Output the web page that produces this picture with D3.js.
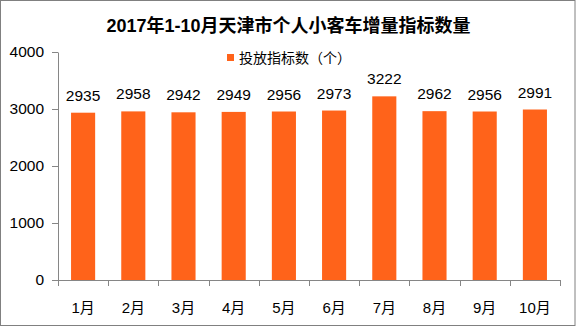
<!DOCTYPE html>
<html>
<head>
<meta charset="utf-8">
<script src="https://cdn.jsdelivr.net/npm/d3@7"></script>
<style>
  html, body { margin: 0; padding: 0; background: #fff; }
  svg { display: block; }
  text { font-family: "Liberation Sans", "Noto Sans CJK SC", sans-serif; fill: #000; }
</style>
</head>
<body>
<svg id="chart" width="576" height="326"></svg>
<script>
// 2017年1-10月天津市个人小客车增量指标数量
const months = ["1月", "2月", "3月", "4月", "5月", "6月", "7月", "8月", "9月", "10月"];
const quotas = [2935, 2958, 2942, 2949, 2956, 2973, 3222, 2962, 2956, 2991];
const yTicks = [0, 1000, 2000, 3000, 4000];
const title = "2017年1-10月天津市个人小客车增量指标数量";
const seriesName = "投放指标数（个）";

const W = 576, H = 326;
const margin = { left: 58, right: 16, top: 52, bottom: 46 };
const svg = d3.select("#chart");
const barColor = "#ff631a";
const axisColor = "#868686";

// outer frame
svg.append("rect")
  .attr("x", 0.5).attr("y", 0.5)
  .attr("width", W - 1.5).attr("height", H - 1)
  .attr("fill", "none").attr("stroke", "#808080").attr("stroke-width", 1);

const x = d3.scaleBand()
  .domain(months)
  .range([margin.left, W - margin.right])
  .paddingInner(0.52).paddingOuter(0.26);

const y = d3.scaleLinear()
  .domain([0, 4000])
  .range([H - margin.bottom, margin.top]);

// title
svg.append("text")
  .attr("x", 288.5).attr("y", 32)
  .attr("text-anchor", "middle")
  .attr("font-size", 18).attr("font-weight", "bold")
  .text(title);

// legend
svg.append("rect")
  .attr("x", 227).attr("y", 54).attr("width", 7).attr("height", 7)
  .attr("fill", barColor);
svg.append("text")
  .attr("x", 239).attr("y", 62.5)
  .attr("font-size", 14)
  .text(seriesName);

// bars
svg.append("g").selectAll("rect")
  .data(quotas)
  .join("rect")
  .attr("x", (d, i) => x(months[i]))
  .attr("y", d => y(d))
  .attr("width", x.bandwidth())
  .attr("height", d => y(0) - y(d))
  .attr("fill", barColor);

// value labels
svg.append("g").selectAll("text")
  .data(quotas)
  .join("text")
  .attr("x", (d, i) => x(months[i]) + x.bandwidth() / 2)
  .attr("y", d => y(d) - 12)
  .attr("text-anchor", "middle")
  .attr("font-size", 15.5)
  .text(d => d);

// y axis
const yAxis = svg.append("g")
  .attr("transform", `translate(${margin.left},0)`)
  .call(d3.axisLeft(y).tickValues(yTicks).tickFormat(d3.format("d"))
    .tickSize(6).tickSizeOuter(0).tickPadding(8));
yAxis.select(".domain").attr("stroke", axisColor);
yAxis.selectAll(".tick line").attr("stroke", axisColor);
yAxis.selectAll(".tick text")
  .attr("font-size", 15.5).attr("fill", "#000")
  .attr("font-family", "Liberation Sans, sans-serif");

// x axis with ticks on category boundaries
const xAxisG = svg.append("g")
  .attr("transform", `translate(0,${y(0)})`);
xAxisG.append("line")
  .attr("x1", margin.left).attr("x2", W - margin.right)
  .attr("y1", 0.5).attr("y2", 0.5)
  .attr("stroke", axisColor);
const step = (W - margin.right - margin.left) / months.length;
xAxisG.selectAll("line.tick")
  .data(d3.range(months.length + 1))
  .join("line")
  .attr("class", "tick")
  .attr("x1", i => Math.round(margin.left + i * step) + 0.5)
  .attr("x2", i => Math.round(margin.left + i * step) + 0.5)
  .attr("y1", 0).attr("y2", 6)
  .attr("stroke", axisColor);
xAxisG.selectAll("text")
  .data(months)
  .join("text")
  .attr("x", d => x(d) + x.bandwidth() / 2)
  .attr("y", 33)
  .attr("text-anchor", "middle")
  .attr("font-size", 15)
  .text(d => d);
</script>
</body>
</html>
